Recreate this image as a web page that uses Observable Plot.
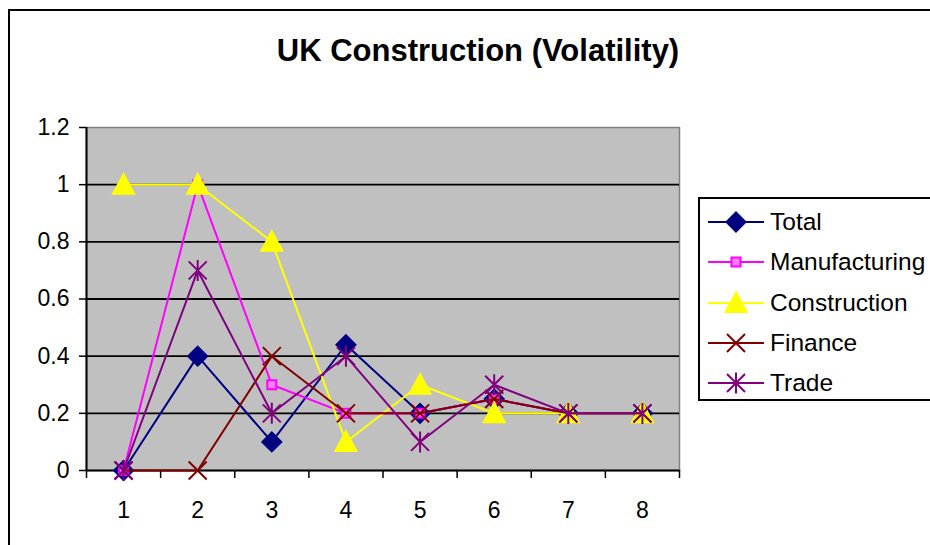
<!DOCTYPE html>
<html>
<head>
<meta charset="utf-8">
<script src="https://cdn.jsdelivr.net/npm/d3@7"></script>
<script src="https://cdn.jsdelivr.net/npm/@observablehq/plot@0.6"></script>
<style>
  html, body { margin: 0; padding: 0; background: #fff; }
  #wrap { position: relative; width: 930px; height: 545px; overflow: hidden; font-family: "Liberation Sans", Arial, sans-serif; }
  #frame { position: absolute; left: 8px; top: 9px; width: 960px; height: 580px; border: 2.5px solid #000; box-sizing: border-box; }
  #title { position: absolute; left: 8px; width: 940px; top: 35px; text-align: center; font-weight: bold; font-size: 31px; line-height: 31px; color: #000; }
  #chart { position: absolute; left: 0; top: 0; }
  #legend { position: absolute; left: 698px; top: 197px; width: 260px; height: 204px; border: 2px solid #000; box-sizing: border-box; padding: 3px 0 0 8px; background: #fff; }
  .row { display: flex; align-items: center; height: 40.3px; font-size: 24.5px; color: #000; }
  .row svg { margin-right: 6px; flex: none; }
</style>
</head>
<body>
<div id="wrap">
  <div id="frame"></div>
  <div id="chart"></div>
  <div id="title">UK Construction (Volatility)</div>
  <div id="legend"></div>
</div>
<script>
// ---- data ----
const categories = [1, 2, 3, 4, 5, 6, 7, 8];
const total         = [0, 0.4, 0.1, 0.44, 0.2, 0.25, 0.2, 0.2];
const manufacturing = [0, 1, 0.3, 0.2, 0.2, 0.25, 0.2, 0.2];
const construction  = [1, 1, 0.8, 0.1, 0.3, 0.2, 0.2, 0.2];
const finance       = [0, 0, 0.4, 0.2, 0.2, 0.25, 0.2, 0.2];
const trade         = [0, 0.7, 0.2, 0.4, 0.1, 0.3, 0.2, 0.2];
const seriesNames = ["Total", "Manufacturing", "Construction", "Finance", "Trade"];
const yTicks = [0, 0.2, 0.4, 0.6, 0.8, 1, 1.2];

// ---- custom Excel-like markers ----
const diamond = { draw(c) { const h = 9.5; c.moveTo(0, -h); c.lineTo(h, 0); c.lineTo(0, h); c.lineTo(-h, 0); c.closePath(); } };
const square = { draw(c) { const h = 4.5; c.moveTo(-h, -h); c.lineTo(h, -h); c.lineTo(h, h); c.lineTo(-h, h); c.closePath(); } };
const triangle = { draw(c) { c.moveTo(0, -10.5); c.lineTo(10.5, 9); c.lineTo(-10.5, 9); c.closePath(); } };
const times = { draw(c) { const h = 9; c.moveTo(-h, -h); c.lineTo(h, h); c.moveTo(h, -h); c.lineTo(-h, h); } };
const star = { draw(c) { const h = 9; c.moveTo(-h, -h); c.lineTo(h, h); c.moveTo(h, -h); c.lineTo(-h, h); c.moveTo(0, -10.5); c.lineTo(0, 10.5); } };

const styles = {
  Total:         { values: total,         color: "#000080", symbol: diamond,  fill: "#000080", stroke: "#000080" },
  Manufacturing: { values: manufacturing, color: "#FF00FF", symbol: square,   fill: "#FF80FF", stroke: "#FF00FF" },
  Construction:  { values: construction,  color: "#FFFF00", symbol: triangle, fill: "#FFFF00", stroke: "#FFFF00" },
  Finance:       { values: finance,       color: "#800000", symbol: times,    fill: "none",    stroke: "#800000" },
  Trade:         { values: trade,         color: "#800080", symbol: star,     fill: "none",    stroke: "#800080" }
};

const boundaries = d3.range(categories.length + 1).map(i => categories[0] - 0.5 + i);

const marks = [
  Plot.frame({ fill: "#C0C0C0", stroke: "#808080", strokeWidth: 1.5 }),
  Plot.ruleY(yTicks.filter(v => v > 0 && v < 1.2), { stroke: "#000", strokeWidth: 1.8 }),
  Plot.axisY({ ticks: yTicks, tickSize: 7, tickPadding: 10, tickFormat: d => String(d), fontSize: 23, label: null, strokeWidth: 1.5 }),
  Plot.axisX({ ticks: categories, tickSize: 0, tickPadding: 31, tickFormat: d => String(d), fontSize: 23, label: null }),
  Plot.axisX({ ticks: boundaries, tickSize: 8, tickFormat: () => "", label: null, strokeWidth: 1.5 }),
  Plot.ruleX([boundaries[0]], { stroke: "#000", strokeWidth: 2 }),
  Plot.ruleY([0], { stroke: "#000", strokeWidth: 2 })
];

for (const name of seriesNames) {
  const s = styles[name];
  const rows = categories.map((c, i) => ({ x: c, y: s.values[i] }));
  marks.push(Plot.line(rows, { x: "x", y: "y", stroke: s.color, strokeWidth: 2 }));
  marks.push(Plot.dot(rows, { x: "x", y: "y", symbol: s.symbol, r: 5, fill: s.fill, stroke: s.stroke, strokeWidth: 2 }));
}

const chart = Plot.plot({
  width: 930,
  height: 545,
  marginLeft: 86,
  marginRight: 251,
  marginTop: 127,
  marginBottom: 75,
  style: { background: "transparent", fontFamily: "'Liberation Sans', Arial, sans-serif", color: "#000", overflow: "visible" },
  x: { type: "linear", domain: [boundaries[0], boundaries[boundaries.length - 1]] },
  y: { domain: [0, 1.2] },
  marks
});
document.getElementById("chart").appendChild(chart);

// ---- legend ----
const legend = document.getElementById("legend");
for (const name of seriesNames) {
  const s = styles[name];
  const row = document.createElement("div");
  row.className = "row";
  const svg = d3.create("svg").attr("width", 56).attr("height", 26);
  svg.append("line").attr("x1", 0).attr("x2", 56).attr("y1", 13).attr("y2", 13).attr("stroke", s.color).attr("stroke-width", 2);
  svg.append("path").attr("transform", "translate(28,13)").attr("d", d3.symbol(s.symbol)()).attr("fill", s.fill).attr("stroke", s.stroke).attr("stroke-width", 2);
  row.appendChild(svg.node());
  const t = document.createElement("span");
  t.textContent = name;
  row.appendChild(t);
  legend.appendChild(row);
}
</script>
</body>
</html>
